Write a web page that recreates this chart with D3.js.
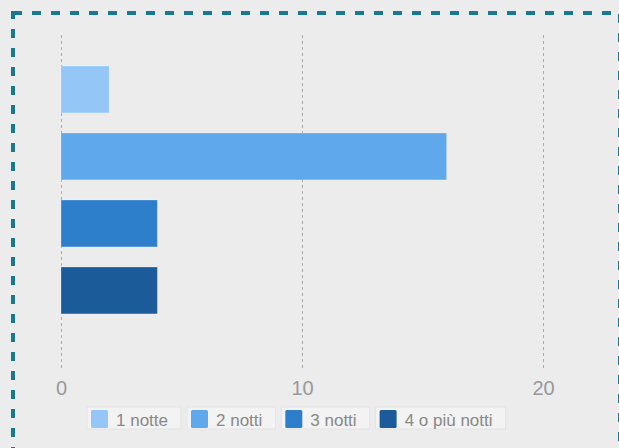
<!DOCTYPE html>
<html>
<head>
<meta charset="utf-8">
<script src="https://cdn.jsdelivr.net/npm/d3@7"></script>
<style>
  body { margin: 0; background: #ececec; }
  svg { display: block; font-family: "Liberation Sans", Arial, sans-serif; }
</style>
</head>
<body>
<div id="chart"></div>
<script>
// chart data
var categories = ["1 notte", "2 notti", "3 notti", "4 o più notti"];
var values = [2, 16, 4, 4];
var tickValues = [0, 10, 20];
var colors = ["#94c7f7", "#5ea8eb", "#2e7fcb", "#1c5b99"];

var width = 619;
var height = 448;

var svg = d3.select("#chart")
    .append("svg")
    .attr("width", width)
    .attr("height", height);

svg.append("rect")
    .attr("width", width)
    .attr("height", height)
    .attr("fill", "#ececec");

// dashed frame
svg.append("rect")
    .attr("x", 13)
    .attr("y", 13)
    .attr("width", 607)
    .attr("height", 460)
    .attr("fill", "none")
    .attr("stroke", "#187994")
    .attr("stroke-width", 4)
    .attr("stroke-dasharray", "9 10");

var xScale = d3.scaleLinear()
    .domain([0, 20])
    .range([61, 543]);

var yScale = d3.scaleBand()
    .domain(categories)
    .range([32.5, 347.4])
    .paddingInner(0.3)
    .paddingOuter(0.5);

var gridTop = 33;
var gridBottom = 368;

// grid lines
var grid = svg.append("g")
    .attr("transform", `translate(0, ${gridBottom})`)
    .call(d3.axisBottom(xScale).tickValues(tickValues).tickSize(-(gridBottom - gridTop)).tickFormat(""));
grid.select(".domain").remove();
grid.selectAll("line")
    .attr("stroke", "#aaaaaa")
    .attr("stroke-dasharray", "3 3");

// bars
svg.selectAll("rect.bar")
    .data(categories)
    .enter()
    .append("rect")
    .attr("class", "bar")
    .attr("x", xScale(0))
    .attr("y", function (d) { return yScale(d); })
    .attr("width", function (d, i) { return xScale(values[i]) - xScale(0); })
    .attr("height", yScale.bandwidth())
    .attr("fill", function (d, i) { return colors[i]; })
    .attr("stroke", "#ffffff")
    .attr("stroke-opacity", 0.25)
    .attr("stroke-width", 1);

// tick labels
var xAxis = svg.append("g")
    .attr("transform", `translate(0, ${gridBottom})`)
    .call(d3.axisBottom(xScale).tickValues(tickValues).tickSize(0));
xAxis.select(".domain").remove();
xAxis.selectAll("text")
    .attr("y", 27)
    .attr("dy", 0)
    .attr("font-size", 20)
    .attr("font-family", "Liberation Sans, Arial, sans-serif")
    .attr("fill", "#999999");

// legend
var legend = svg.append("g").attr("class", "legend");
var lx = 87;
categories.forEach(function (c, i) {
    var item = legend.append("g").attr("transform", `translate(${lx}, 407)`);
    var bg = item.append("rect")
        .attr("y", 0)
        .attr("height", 22)
        .attr("fill", "#f3f3f3")
        .attr("stroke", "#e3e3e3");
    item.append("rect")
        .attr("x", 4)
        .attr("y", 3)
        .attr("width", 17)
        .attr("height", 18)
        .attr("rx", 1.5)
        .attr("fill", colors[i]);
    var t = item.append("text")
        .attr("x", 29)
        .attr("y", 19)
        .attr("font-size", 17)
        .attr("fill", "#888888")
        .text(c);
    var w = 29 + t.node().getComputedTextLength() + 13;
    bg.attr("width", w);
    lx += w + 6;
});
</script>
</body>
</html>
